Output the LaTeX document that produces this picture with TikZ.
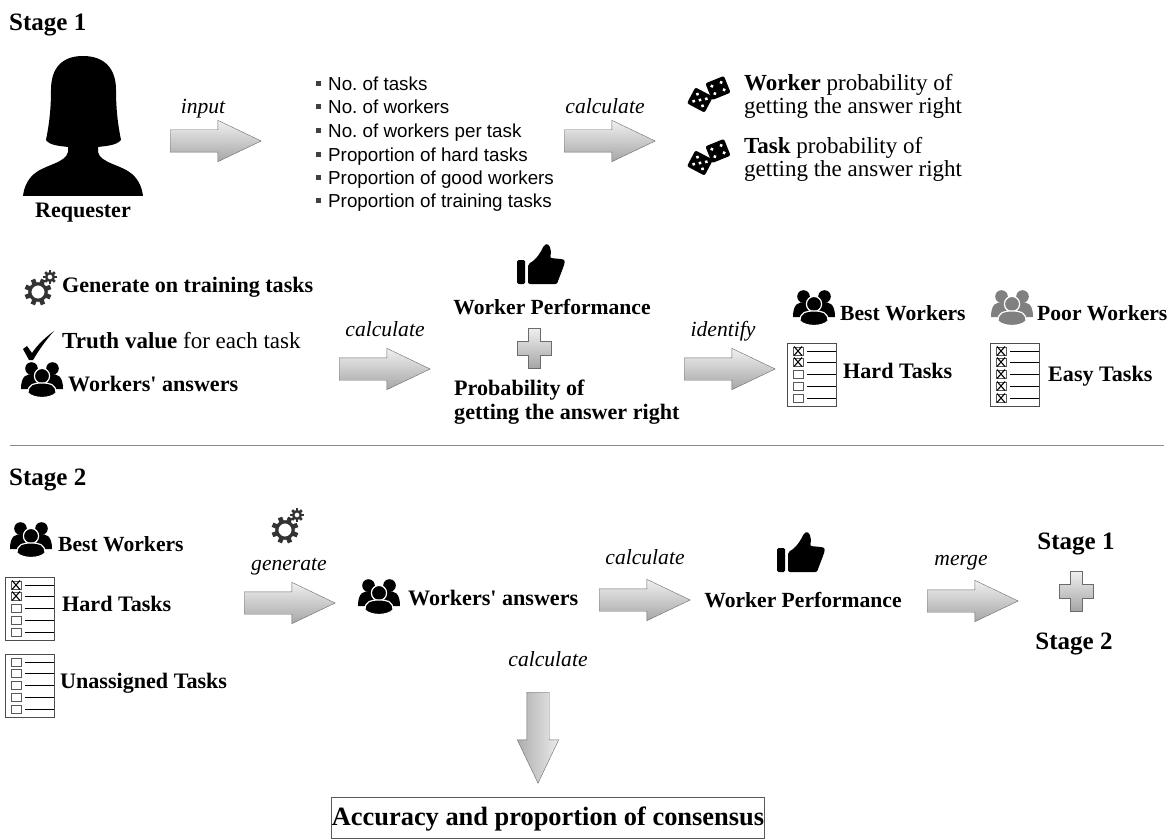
\documentclass[tikz,border=0pt]{standalone}
\usepackage{fontspec}
\setmainfont{Liberation Serif}
\newfontfamily\listfont{Liberation Sans}
\usetikzlibrary{shapes.arrows}
\definecolor{arrowline}{gray}{0.42}
\definecolor{gearcol}{gray}{0.2}
\tikzset{
  plain/.style={font=\fontsize{23}{27}\selectfont,text height=18pt,text depth=4pt},
  bold/.style={font=\fontsize{22.1}{27}\selectfont\bfseries,text height=18pt,text depth=4pt},
  boldnarrow/.style={bold,font=\fontsize{21.6}{27}\selectfont\bfseries},
  stagelbl/.style={bold,font=\fontsize{25}{30}\selectfont\bfseries},
  verb/.style={font=\fontsize{21.6}{26}\selectfont\itshape,text height=18pt,text depth=4pt},
  item/.style={font=\fontsize{18.8}{22}\selectfont\listfont,anchor=west,inner sep=0pt,text height=15pt,text depth=2pt},
  bulletbox/.style={fill=black!75,minimum size=5pt,inner sep=0pt},
  blockarrow/.style={single arrow,anchor=tail,draw=arrowline,thin,top color=black!6,bottom color=black!35,
    minimum height=91pt,minimum width=41pt,inner xsep=0pt,inner ysep=11pt,
    single arrow head extend=9.5pt,single arrow tip angle=51},
  downarrow/.style={blockarrow,top color=white,bottom color=white,left color=black!32,right color=black!8,
    inner xsep=11pt,inner ysep=0pt,shape border rotate=270},
  plusshade/.style={draw=arrowline,thin,top color=black!6,bottom color=black!35},
  %% icons, drawn around their own centre
  workers/.pic={
    \fill[pic actions] (-10.5,-11.5) circle(6.3) (10.5,-11.5) circle(6.3);
    \fill[pic actions] (-21,9) .. controls (-21,-5) and (-15,-6) .. (-8,-6) -- (8,-6)
      .. controls (15,-6) and (21,-5) .. (21,9) -- cycle;
    \fill[pic actions,draw=white,line width=1.2pt] (0,-4) circle(7.6);
    \fill[pic actions,draw=white,line width=1.2pt] (-14,13) .. controls (-14,4) and (-8,3) .. (0,3)
      .. controls (8,3) and (14,4) .. (14,13) .. controls (8,19) and (-8,19) .. (-14,13) -- cycle;
  },
  gears/.pic={
    \draw[gearcol,line width=3.2pt] (0,0) circle(8.2);
    \foreach \a in {0,45,...,315}
      \fill[gearcol,rotate=\a+22] (-2.3,-13.5) rectangle (2.3,-8);
    \draw[gearcol,line width=2.4pt] (12,-15) circle(3.8);
    \foreach \a in {0,45,...,315}
      \fill[gearcol,shift={(12,-15)},rotate=\a] (-1.3,-6.8) rectangle (1.3,-4);
  },
  thumb/.pic={
    \fill[rounded corners=1.5pt] (-24,-6) rectangle (-16,18);
    \fill[rounded corners=2pt] (-13,-2) .. controls (-5,-6) and (0,-14) .. (3,-21)
      .. controls (8,-23) and (11,-17) .. (9,-8) -- (20,-7) .. controls (25,-6) and (23,-1) .. (22,2)
      -- (17,15) .. controls (16,18) and (14,18) .. (12,18) -- (-13,18) -- cycle;
  },
  dice/.pic={
    \begin{scope}[shift={(-8,5)},rotate=-28]
      \fill[rounded corners=2pt] (-10,-9) rectangle (10,9);
      \fill[white] (-5,-4) circle(1.8) (5,-4) circle(1.8) (0,0) circle(1.8) (-5,4) circle(1.8) (5,4) circle(1.8);
    \end{scope}
    \begin{scope}[shift={(10,-7)},rotate=22]
      \fill[rounded corners=2pt] (-10,-9) rectangle (10,9);
      \fill[white] (-5,-4) circle(1.8) (5,4) circle(1.8) (5,-4) circle(1.8) (-5,4) circle(1.8);
    \end{scope}
  },
  plusicon/.pic={
    \draw[plusshade] (-6,-20) -- (6,-20) -- (6,-7) -- (17,-7) -- (17,7) -- (6,7) -- (6,20)
      -- (-6,20) -- (-6,7) -- (-17,7) -- (-17,-7) -- (-6,-7) -- cycle;
  },
  %% origin at the top left corner, #1 boxes crossed
  pics/checklist/.style={code={
    \draw[black!70,thick] (0,0) rectangle (49,63);
    \foreach \n/\y in {1/8,2/19,3/31,4/43,5/55} {
      \draw[black!65] (6,\y-4) rectangle (16,\y+4);
      \draw[line width=1.3pt] (20,\y+0.5) -- (49,\y+0.5);
      \ifnum\n>#1\else
        \draw[black,line width=1.1pt] (7,\y-4.5) -- (15,\y+4.5) (15,\y-4.5) -- (7,\y+4.5);
      \fi
    }
  }},
}
\begin{document}
\begin{tikzpicture}[x=1pt,y=-1pt]
  \useasboundingbox (0,0) rectangle (1168,840);

%% Stage 1, top row
  \node (STG1) at (9,24) [stagelbl,anchor=west,inner sep=0pt]  {Stage 1};
  \fill (83,56) .. controls (62,56) and (51,68) .. (51,90) .. controls (51,110) and (49,125) .. (46,140)
    .. controls (50,146) and (62,146) .. (68,147) -- (68,152) .. controls (66,163) and (44,165) .. (34,174)
    .. controls (27,180) and (24,188) .. (23,196) -- (143,196) .. controls (142,188) and (139,180) .. (132,174)
    .. controls (122,165) and (100,163) .. (98,152) -- (98,147) .. controls (104,146) and (116,146) .. (121,140)
    .. controls (118,125) and (116,110) .. (116,90) .. controls (116,68) and (104,56) .. (83,56) -- cycle;
  \node (REQ) at (83,210) [bold]  {Requester};
  \node (INP) at (203,107) [verb]  {input};
  \node (AR1) at (170,141) [blockarrow]  {};
  \node (BL1) at (318,84) [bulletbox]  {};
  \node (IT1) at (328,84) [item]  {No.\ of tasks};
  \node (BL2) at (318,107) [bulletbox]  {};
  \node (IT2) at (328,107) [item]  {No.\ of workers};
  \node (BL3) at (318,131) [bulletbox]  {};
  \node (IT3) at (328,131) [item]  {No.\ of workers per task};
  \node (BL4) at (318,155) [bulletbox]  {};
  \node (IT4) at (328,155) [item]  {Proportion of hard tasks};
  \node (BL5) at (318,178) [bulletbox]  {};
  \node (IT5) at (328,178) [item]  {Proportion of good workers};
  \node (BL6) at (318,201) [bulletbox]  {};
  \node (IT6) at (328,201) [item]  {Proportion of training tasks};
  \node (CAL1) at (605,107) [verb]  {calculate};
  \node (AR2) at (564,141) [blockarrow]  {};
  \pic (DIC1) at (708,95) {dice};
  \node (WP1) at (744,84) [plain,anchor=west,inner sep=0pt]  {\textbf{Worker} probability of};
  \node (WP2) at (744,107) [plain,anchor=west,inner sep=0pt]  {getting the answer right};
  \pic (DIC2) at (708,158) {dice};
  \node (TP1) at (744,147) [plain,anchor=west,inner sep=0pt]  {\textbf{Task} probability of};
  \node (TP2) at (744,170) [plain,anchor=west,inner sep=0pt]  {getting the answer right};

%% Stage 1, second row
  \pic (GEA1) at (38,292) {gears};
  \node (GEN) at (62,285) [bold,anchor=west,inner sep=0pt]  {Generate on training tasks};
  \fill (23,349) -- (27,346) -- (32,353) .. controls (38,344) and (46,337) .. (54,331)
    .. controls (46,340) and (39,350) .. (33,360) -- (29,360) -- cycle;
  \node (TRU) at (62,341) [plain,anchor=west,inner sep=0pt]  {\textbf{Truth value} for each task};
  \pic (WRK1) at (42,380) {workers};
  \node (ANS1) at (68,384) [bold,anchor=west,inner sep=0pt]  {Workers\textquotesingle\ answers};
  \node (CAL2) at (385,329) [verb]  {calculate};
  \node (AR3) at (339,369) [blockarrow]  {};
  \pic (THU1) at (541,266) {thumb};
  \node (PRF1) at (552,307) [boldnarrow]  {Worker Performance};
  \pic (PLS1) at (534,348) {plusicon};
  \node (PRB1) at (454,388) [bold,anchor=west,inner sep=0pt]  {Probability of};
  \node (PRB2) at (454,412) [bold,anchor=west,inner sep=0pt]  {getting the answer right};
  \node (IDE) at (723,329) [verb]  {identify};
  \node (AR4) at (684,369) [blockarrow]  {};
  \pic (WRK2) at (814,308) {workers};
  \node (BST1) at (840,313) [boldnarrow,anchor=west,inner sep=0pt]  {Best Workers};
  \pic[fill=black!50] (WRK3) at (1012,308) {workers};
  \node (POO) at (1037,313) [boldnarrow,anchor=west,inner sep=0pt]  {Poor Workers};
  \pic (LST1) at (787,343) {checklist=2};
  \node (HRD1) at (843,371) [bold,anchor=west,inner sep=0pt]  {Hard Tasks};
  \pic (LST2) at (990,343) {checklist=5};
  \node (ESY) at (1048,374) [bold,anchor=west,inner sep=0pt]  {Easy Tasks};

  \draw[black!45] (10,445) -- (1164,445);

%% Stage 2
  \node (STG2) at (9,478) [stagelbl,anchor=west,inner sep=0pt]  {Stage 2};
  \pic (WRK4) at (31,540) {workers};
  \node (BST2) at (58,544) [boldnarrow,anchor=west,inner sep=0pt]  {Best Workers};
  \pic (LST3) at (5,577) {checklist=2};
  \node (HRD2) at (62,604) [bold,anchor=west,inner sep=0pt]  {Hard Tasks};
  \pic (LST4) at (5,654) {checklist=0};
  \node (UNA) at (60,681) [bold,anchor=west,inner sep=0pt]  {Unassigned Tasks};
  \pic (GEA2) at (285,530) {gears};
  \node (GNR) at (289,563) [verb]  {generate};
  \node (AR5) at (244,603) [blockarrow]  {};
  \pic (WRK5) at (379,597) {workers};
  \node (ANS2) at (408,598) [bold,anchor=west,inner sep=0pt]  {Workers\textquotesingle\ answers};
  \node (CAL3) at (645,557) [verb]  {calculate};
  \node (AR6) at (599,600) [blockarrow]  {};
  \pic (THU2) at (801,554) {thumb};
  \node (PRF2) at (803,600) [boldnarrow]  {Worker Performance};
  \node (MRG) at (961,558) [verb]  {merge};
  \node (AR7) at (927,601) [blockarrow]  {};
  \node (ST1B) at (1076,542) [stagelbl]  {Stage 1};
  \pic (PLS2) at (1076,591) {plusicon};
  \node (ST2B) at (1074,642) [stagelbl]  {Stage 2};
  \node (CAL4) at (548,659) [verb]  {calculate};
  \node (AR8) at (538,692) [downarrow]  {};
  \node (ACC) at (548,817.5) [draw=black!65,thick,minimum width=432pt,minimum height=41pt,inner sep=0pt,
    text height=19pt,text depth=3pt,font=\fontsize{26.4}{30}\selectfont\bfseries]  {Accuracy and proportion of consensus};

\end{tikzpicture}
\end{document}
